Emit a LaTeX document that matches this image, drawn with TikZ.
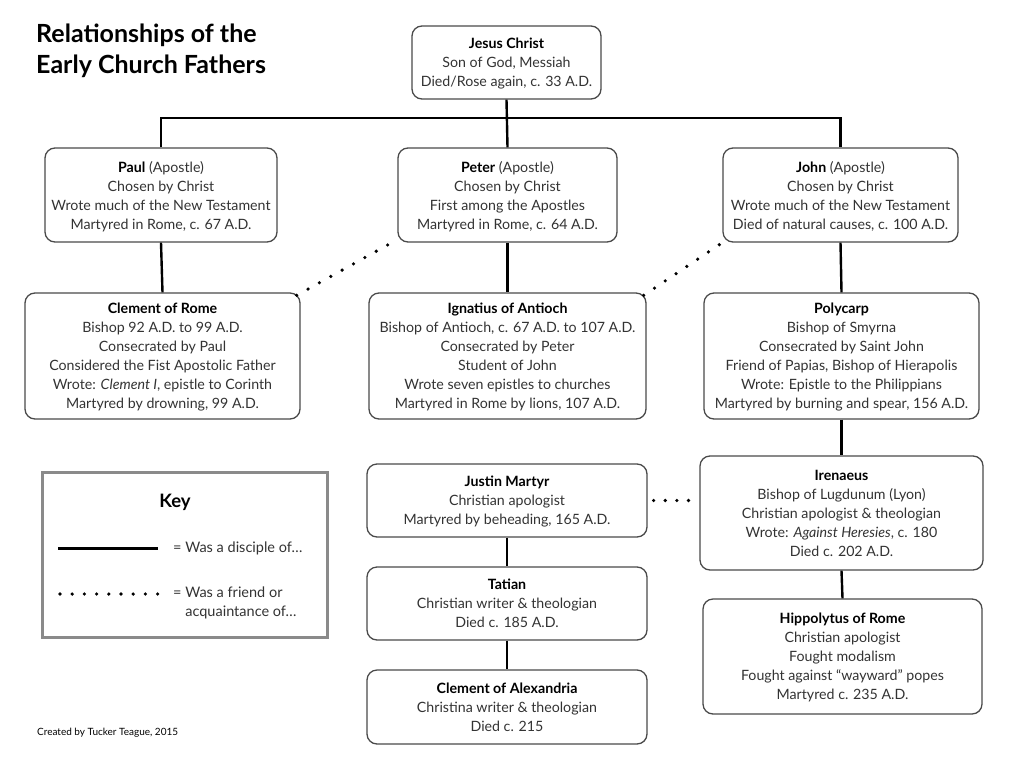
\documentclass[tikz,border=0pt]{standalone}
\usepackage{fontspec}
\setmainfont{Lato}
\definecolor{boxgrey}{HTML}{4A4A4A}
\definecolor{textgrey}{HTML}{333333}
\definecolor{keygrey}{HTML}{8A8A8A}
\begin{document}
\begin{tikzpicture}[x=1pt,y=-1pt,
  box/.style={draw=boxgrey, line width=1.3pt, rounded corners=10pt, fill=white,
    align=center, font=\fontsize{14.2}{19}\selectfont, text=textgrey, inner sep=0pt,
    text depth=0pt},
  link/.style={line width=2.4pt, black},
  friend/.style={line width=3.6pt, line cap=round, dash pattern=on 0pt off 13pt, black}]
\useasboundingbox[fill=white] (0,0) rectangle (1024,768);
\newcommand{\nmb}[1]{\textcolor{black}{\textbf{#1}}}

% title
\node[anchor=north west, align=left, inner sep=0pt, font=\fontsize{25}{31}\selectfont\bfseries]
  (title) at (36,24) {Relationships of the\\Early Church Fathers};

% people
\node[box, minimum width=189, minimum height=73] (jesus) at (506.5,62.5)
  {\nmb{Jesus Christ}\\Son of God, Messiah\\Died/Rose again, c. 33 A.D.};
\node[box, minimum width=232, minimum height=94] (paul) at (161,195)
  {\nmb{Paul} (Apostle)\\Chosen by Christ\\Wrote much of the New Testament\\Martyred in Rome, c. 67 A.D.};
\node[box, minimum width=219, minimum height=94] (peter) at (507.5,195)
  {\nmb{Peter} (Apostle)\\Chosen by Christ\\First among the Apostles\\Martyred in Rome, c. 64 A.D.};
\node[box, minimum width=235, minimum height=94] (john) at (840.5,195)
  {\nmb{John} (Apostle)\\Chosen by Christ\\Wrote much of the New Testament\\Died of natural causes, c. 100 A.D.};
\node[box, minimum width=275, minimum height=126] (clementr) at (162.5,356)
  {\nmb{Clement of Rome}\\Bishop 92 A.D. to 99 A.D.\\Consecrated by Paul\\Considered the Fist Apostolic Father\\Wrote: \textit{Clement I}, epistle to Corinth\\Martyred by drowning, 99 A.D.};
\node[box, minimum width=277, minimum height=126] (ignatius) at (507.5,356)
  {\nmb{Ignatius of Antioch}\\Bishop of Antioch, c. 67 A.D. to 107 A.D.\\Consecrated by Peter\\Student of John\\Wrote seven epistles to churches\\Martyred in Rome by lions, 107 A.D.};
\node[box, minimum width=275, minimum height=126] (polycarp) at (841.5,356)
  {\nmb{Polycarp}\\Bishop of Smyrna\\Consecrated by Saint John\\Friend of Papias, Bishop of Hierapolis\\Wrote: Epistle to the Philippians\\Martyred by burning and spear, 156 A.D.};
\node[box, minimum width=283, minimum height=114] (irenaeus) at (841.5,513)
  {\nmb{Irenaeus}\\Bishop of Lugdunum (Lyon)\\Christian apologist \& theologian\\Wrote: \textit{Against Heresies}, c. 180\\Died c. 202 A.D.};
\node[box, minimum width=279, minimum height=115] (hippolytus) at (842.5,656.5)
  {\nmb{Hippolytus of Rome}\\Christian apologist\\Fought modalism\\Fought against “wayward” popes\\Martyred c. 235 A.D.};
\node[box, minimum width=280, minimum height=73] (justin) at (507,500.5)
  {\nmb{Justin Martyr}\\Christian apologist\\Martyred by beheading, 165 A.D.};
\node[box, minimum width=280, minimum height=73] (tatian) at (507,603.5)
  {\nmb{Tatian}\\Christian writer \& theologian\\Died c. 185 A.D.};
\node[box, minimum width=280, minimum height=74] (clementa) at (507,707)
  {\nmb{Clement of Alexandria}\\Christina writer \& theologian\\Died c. 215};

% disciple links
\coordinate (bar) at (506,118);
\draw[link] (jesus.south) -- (peter.north);
\draw[link] (paul.north) -- (paul.north |- bar) -- (john.north |- bar) -- (john.north);
\draw[link] (paul.south) -- (clementr.north);
\draw[link] (peter.south) -- (ignatius.north);
\draw[link] (john.south) -- (polycarp.north);
\draw[link] (polycarp.south) -- (irenaeus.north);
\draw[link] (irenaeus.south) -- (hippolytus.north);
\draw[link] (justin.south) -- (tatian.north);
\draw[link] (tatian.south) -- (clementa.north);

% friend links
\draw[friend] ([xshift=-4pt,yshift=-3pt]clementr.north east) -- ([xshift=-2pt,yshift=2pt]peter.south west);
\draw[friend] ([xshift=-3pt,yshift=-3pt]ignatius.north east) -- ([xshift=3pt,yshift=2pt]john.south west);
\draw[friend, dash pattern=on 0pt off 11.6pt] ([xshift=6pt]justin.east) -- ([xshift=-10pt]justin.east -| irenaeus.west);

% key
\node[draw=keygrey, line width=3pt, minimum width=285, minimum height=165, inner sep=0pt] (key) at (184.5,554.5) {};
\node[font=\fontsize{18.5}{20}\selectfont\bfseries, inner sep=0pt] (keyt) at (175,502) {Key};
\coordinate (ka) at (58,548);
\coordinate (kb) at (158,548);
\draw[link, line width=3pt] (ka) -- (kb);
\node[anchor=west, inner sep=0pt, font=\fontsize{14.5}{19}\selectfont, text=textgrey] (kl1) at (173,548) {= Was a disciple of…};
\coordinate (kc) at (60,594);
\coordinate (kd) at (158,594);
\draw[friend, dash pattern=on 0pt off 12.2pt] (kc) -- (kd);
\node[anchor=north west, align=left, inner sep=0pt, font=\fontsize{14.5}{19}\selectfont, text=textgrey] (kl2) at (173,587) {= Was a friend or\\\hphantom{= }acquaintance of…};

% credit
\node[anchor=west, inner sep=0pt, font=\fontsize{10}{11}\selectfont] (credit) at (37,733) {Created by Tucker Teague, 2015};
\end{tikzpicture}
\end{document}
